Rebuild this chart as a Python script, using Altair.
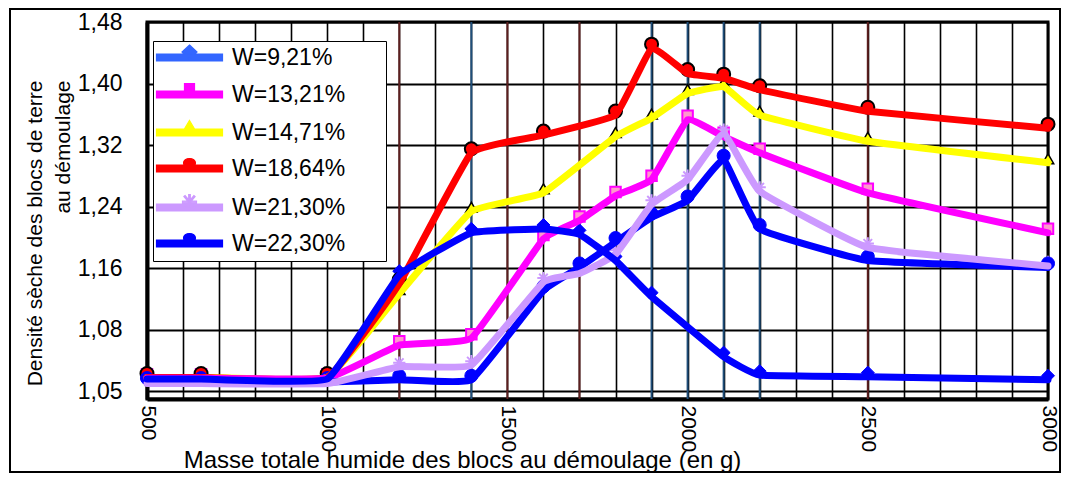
import altair as alt
import pandas as pd

# ---------------- data ----------------
masses = [500, 650, 1000, 1200, 1400, 1600, 1700, 1800, 1900, 2000, 2100, 2200, 2500, 3000]

series_names = ["W=9,21%", "W=13,21%", "W=14,71%", "W=18,64%", "W=21,30%", "W=22,30%"]

w_9_21 = [1.016, 1.016, 1.016, 1.151, 1.206, 1.211, 1.204, 1.170, 1.123, None, 1.045, 1.021, 1.019, 1.015]
w_13_21 = [1.017, 1.017, 1.017, 1.060, 1.069, 1.198, 1.222, 1.254, 1.275, 1.353, 1.331, 1.310, 1.258, 1.206]
w_14_71 = [1.018, 1.018, 1.018, 1.127, 1.234, 1.258, None, 1.331, 1.355, 1.387, 1.396, 1.359, 1.325, 1.297]
w_18_64 = [1.018, 1.018, 1.018, 1.140, 1.310, 1.333, None, 1.359, 1.446, 1.413, 1.407, 1.392, 1.364, 1.342]
w_21_30 = [1.010, 1.010, 1.010, 1.032, 1.034, 1.142, 1.153, 1.178, 1.243, 1.275, 1.335, 1.260, 1.187, 1.163]
w_22_30 = [1.012, 1.012, 1.012, 1.015, 1.015, 1.131, 1.161, 1.194, 1.226, 1.248, 1.301, 1.211, 1.170, 1.161]

series_values = [w_9_21, w_13_21, w_14_71, w_18_64, w_21_30, w_22_30]

y_tick_values = [1.00, 1.08, 1.16, 1.24, 1.32, 1.40, 1.48]
y_tick_labels = ["1,05", "1,08", "1,16", "1,24", "1,32", "1,40", "1,48"]
x_tick_values = [500, 1000, 1500, 2000, 2500, 3000]
x_tick_labels = ["500", "1000", "1500", "2000", "2500", "3000"]
x_grid_values = list(range(500, 3001, 100))
blue_grid = [1400, 1900, 2000, 2100, 2200]
red_grid = [1200, 1500, 1700, 2500]

x_title = "Masse totale humide des blocs au démoulage (en g)"
y_title = ["Densité sèche des blocs de terre", "au démoulage"]

# ---------------- styles ----------------
FONT = "Liberation Sans"
series_colors = ["#0000ff", "#ff00ff", "#ffff00", "#ff0000", "#cc99ff", "#0000ff"]
legend_colors = ["#3366ff", "#ff00ff", "#ffff00", "#ff0000", "#cc99ff", "#0000ff"]

asterisk = "M0,-1V1M-1,0H1M-0.7,-0.7L0.7,0.7M0.7,-0.7L-0.7,0.7"
marker_styles = {
    "W=9,21%": dict(shape="diamond", filled=True, fill="#0000ff", stroke="#0000ff", strokeWidth=1, size=170),
    "W=13,21%": dict(shape="square", filled=True, fill="#ff99cc", stroke="#ff00ff", strokeWidth=2, size=110),
    "W=14,71%": dict(shape="triangle-up", filled=True, fill="#ffff00", stroke="black", strokeWidth=1.5, size=130),
    "W=18,64%": dict(shape="circle", filled=True, fill="#ff0000", stroke="black", strokeWidth=2, size=170),
    "W=21,30%": dict(shape=asterisk, filled=False, stroke="#cc99ff", strokeWidth=2, size=150),
    "W=22,30%": dict(shape="circle", filled=True, fill="#0000ff", stroke="#0000ff", strokeWidth=1, size=170),
}

# legend symbol = thick line + marker; the final zero-length sub-path only widens the legend box
line_rect = "M-3.3,-0.34H3.3V0.34H-3.3Z"
box_extent = " M18.9,0L18.9,0"
legend_paths = [
    line_rect + " M0,-1.25L0.75,-0.55L0,0.15L-0.75,-0.55Z" + box_extent,
    line_rect + " M-0.5,-1.1H0.5V0H-0.5Z" + box_extent,
    line_rect + " M0,-1.2L0.65,-0.1H-0.65Z" + box_extent,
    line_rect + " M-0.6,-0.55A0.6,0.45,0,1,1,0.6,-0.55A0.6,0.45,0,1,1,-0.6,-0.55Z" + box_extent,
    line_rect + " M-0.08,-1.3H0.08V0.1H-0.08Z M-0.7,-0.63H0.7V-0.47H-0.7Z"
    " M-0.56,-1.1L-0.44,-1.2L0.56,0L0.44,0.1Z M-0.44,0.1L-0.56,0L0.44,-1.2L0.56,-1.1Z" + box_extent,
    line_rect + " M-0.6,-0.55A0.6,0.45,0,1,1,0.6,-0.55A0.6,0.45,0,1,1,-0.6,-0.55Z" + box_extent,
]

# ---------------- table ----------------
rows = []
for name, vals in zip(series_names, series_values):
    for m, v in zip(masses, vals):
        if v is not None:
            rows.append({"Series": name, "Masse": m, "Densite": v})
df = pd.DataFrame(rows)

W, H = 901, 377

y_expr = "[" + ",".join("'%s'" % s for s in y_tick_labels) + "][indexof([" + \
    ",".join(str(int(round(v * 100))) for v in y_tick_values) + "], round(datum.value*100))]"
x_expr = "[" + ",".join("'%s'" % s for s in x_tick_labels) + "][indexof([" + \
    ",".join(str(v) for v in x_tick_values) + "], datum.value)]"

x_enc = alt.X(
    "Masse:Q",
    scale=alt.Scale(domain=[500, 3000], nice=False, zero=False),
    axis=alt.Axis(
        values=x_grid_values, labelExpr="isString(" + x_expr + ") ? " + x_expr + " : ''",
        labelAngle=90, labelAlign="left", labelBaseline="middle", labelFontSize=21,
        labelPadding=6, labelOverlap=False, labelFlush=False, labelFont=FONT, labelColor="black",
        ticks=False, grid=True, gridColor="black", gridWidth=1.6,
        domainColor="black", domainWidth=4,
        title=x_title, titleFont=FONT, titleFontSize=24, titleFontWeight="normal", titleColor="black",
        titleX=315, titleY=68, titleAlign="center", titleBaseline="alphabetic",
    ),
)
y_enc = alt.Y(
    "Densite:Q",
    scale=alt.Scale(domain=[0.99, 1.48], nice=False, zero=False),
    axis=alt.Axis(
        values=y_tick_values, labelExpr=y_expr, labelFontSize=23, labelFont=FONT, labelColor="black",
        labelPadding=25, ticks=False, grid=True, gridColor="black", gridWidth=2,
        domainColor="black", domainWidth=4,
        title=y_title, titleFont=FONT, titleFontSize=21, titleFontWeight="normal", titleColor="black",
        titleAngle=-90, titleAlign="right", titleBaseline="top", titleX=-123, titleY=58,
        titleLineHeight=28,
    ),
)

base = alt.Chart(df)

layers = []
# coloured vertical grid lines
for vals, col in ((blue_grid, "#1f4e79"), (red_grid, "#5c1f1f")):
    layers.append(
        alt.Chart(pd.DataFrame({"Masse": vals})).mark_rule(color=col, strokeWidth=2).encode(x=x_enc)
    )

# markers (drawn behind the lines, slightly above as in the picture)
for name in series_names:
    st = dict(marker_styles[name])
    layers.append(
        base.transform_filter(alt.datum.Series == name)
        .mark_point(opacity=1, yOffset=-4, **st)
        .encode(x=x_enc, y=y_enc)
    )

# lines
draw_order = ["W=14,71%", "W=18,64%", "W=13,21%", "W=22,30%", "W=21,30%", "W=9,21%"]
for name in draw_order:
    col = series_colors[series_names.index(name)]
    layers.append(
        base.transform_filter(alt.datum.Series == name)
        .mark_line(strokeWidth=7, interpolate="cardinal", tension=0.7, strokeCap="round",
                   strokeJoin="round", color=col)
        .encode(x=x_enc, y=y_enc)
    )

legend_props = dict(
    title=None, orient="none", legendX=6, legendY=19, direction="vertical",
    strokeColor="black", fillColor="white", padding=5,
    labelFont=FONT, labelFontSize=23, labelColor="black",
    symbolSize=400, symbolStrokeWidth=1.2, symbolOffset=20, labelOffset=31, rowPadding=11,
)
legend_layer = (
    base.transform_filter("false")
    .mark_point(filled=True, opacity=1)
    .encode(
        x=x_enc, y=y_enc,
        color=alt.Color("Series:N", scale=alt.Scale(domain=series_names, range=legend_colors),
                        legend=alt.Legend(**legend_props)),
        stroke=alt.Stroke("Series:N", scale=alt.Scale(domain=series_names, range=legend_colors),
                          legend=alt.Legend(**legend_props)),
        shape=alt.Shape("Series:N", scale=alt.Scale(domain=series_names, range=legend_paths),
                        legend=alt.Legend(**legend_props)),
    )
)
layers.append(legend_layer)

# outer frame around the whole figure
frame = alt.Chart(pd.DataFrame({"a": [0]})).mark_rect(
    fillOpacity=0, stroke="black", strokeWidth=2
).encode(x=alt.value(-137), x2=alt.value(913), y=alt.value(-13), y2=alt.value(450))
layers.append(frame)

chart = (
    alt.layer(*layers)
    .properties(
        width=W, height=H,
        autosize=alt.AutoSizeParams(type="none"),
        padding={"left": 139, "top": 14, "right": 13, "bottom": 75},
        background="white",
    )
    .configure_view(stroke="black", strokeWidth=3)
)

chart.save("out.html", embed_options={"renderer": "svg", "actions": False})
